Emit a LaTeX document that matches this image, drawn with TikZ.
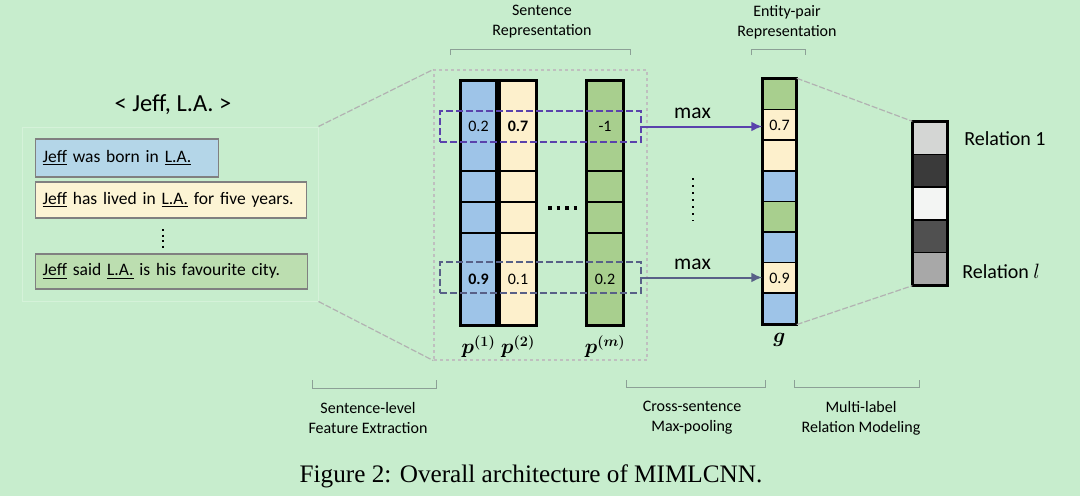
\documentclass[tikz,border=0pt]{standalone}
\usepackage{amsmath,amssymb}
\usepackage{fontspec}
\setmainfont{Carlito}
\newfontfamily\capfont{Liberation Serif}
\usetikzlibrary{positioning,arrows.meta}
\tikzset{>={Latex[length=11pt,width=10pt]}}
\definecolor{bgcol}{RGB}{199,237,205}
\definecolor{vblue}{RGB}{158,196,232}
\definecolor{vcream}{RGB}{253,240,204}
\definecolor{vgreen}{RGB}{168,207,142}
\definecolor{sblue}{RGB}{180,214,232}
\definecolor{scream}{RGB}{252,244,212}
\definecolor{sgreen}{RGB}{188,222,176}
\definecolor{selpurple}{RGB}{90,66,172}
\definecolor{selgray}{RGB}{88,96,135}
\definecolor{linegray}{RGB}{140,160,150}
\definecolor{relA}{RGB}{212,214,212}
\definecolor{relB}{RGB}{58,58,58}
\definecolor{relC}{RGB}{243,245,243}
\definecolor{relD}{RGB}{80,80,80}
\definecolor{relE}{RGB}{168,168,168}
\tikzstyle{sent}=[rectangle,draw=black!50,line width=1.3pt,minimum height=36pt,
  inner xsep=7pt,anchor=west,align=left,font=\fontsize{17.5}{20}\selectfont]
\tikzstyle{cell}=[rectangle,draw=black,line width=1.5pt,minimum width=35pt,
  inner sep=0pt,font=\fontsize{16}{18}\selectfont]
\tikzstyle{gcell}=[cell,minimum width=33pt,minimum height=30.6pt]
\tikzstyle{relcell}=[cell,minimum width=34pt,minimum height=32.6pt]
\tikzstyle{selbox}=[rectangle,line width=2pt,dash pattern=on 7pt off 3pt,
  minimum width=201pt,minimum height=31pt,inner sep=0pt]
\tikzstyle{lbl}=[align=center,font=\fontsize{16}{20}\selectfont]
\tikzstyle{brk}=[linegray,line width=0.8pt]
\tikzstyle{trap}=[black!30,line width=1.2pt,dash pattern=on 6pt off 2pt]

\begin{document}
\begin{tikzpicture}[x=1pt,y=-1pt]
  \useasboundingbox[fill=bgcol] (0,0) rectangle (1080,496) ;

  % input bag of sentences
  \path (173,105) node (pair) [font=\fontsize{24.5}{28}\selectfont] {< Jeff, L.A. >};
  \path (170,214) node (panel) [rectangle,draw=white!25!bgcol,line width=1pt,
    minimum width=296pt,minimum height=174pt] {};
  \path (35,158) node (s1) [sent,fill=sblue,text width=169pt,minimum height=38pt]
    {\underline{Jeff} was born in \underline{L.A.}};
  \path (35,200) node (s2) [sent,fill=scream,text width=257pt]
    {\underline{Jeff} has lived in \underline{L.A.} for five years.};
  \draw[line width=2pt,dash pattern=on 2pt off 3.5pt] (163,229) -- (163,249) ;
  \path (35,271.5) node (s3) [sent,fill=sgreen,text width=258pt,minimum height=35pt]
    {\underline{Jeff} said \underline{L.A.} is his favourite city.};

  % sentence representations
  \path (540.5,215) node (frame) [rectangle,draw=black!25,dashed,line width=1.2pt,
    minimum width=213pt,minimum height=290pt] {};
  \draw[trap] (panel.north east) -- (frame.north west) ;
  \draw[trap] (panel.south east) -- (frame.south west) ;

  \path (478.5,126) node (pa1) [cell,fill=vblue,minimum height=90pt] {0.2};
  \path (478.5,186.5) node (pb1) [cell,fill=vblue,minimum height=31pt] {};
  \path (478.5,217.5) node (pc1) [cell,fill=vblue,minimum height=31pt] {};
  \path (478.5,279) node (pd1) [cell,fill=vblue,minimum height=92pt] {\textbf{0.9}};
  \draw[line width=3pt] (pa1.north west) rectangle (pd1.south east) ;

  \path (518,126) node (pa2) [cell,fill=vcream,minimum height=90pt] {\textbf{0.7}};
  \path (518,186.5) node (pb2) [cell,fill=vcream,minimum height=31pt] {};
  \path (518,217.5) node (pc2) [cell,fill=vcream,minimum height=31pt] {};
  \path (518,279) node (pd2) [cell,fill=vcream,minimum height=92pt] {0.1};
  \draw[line width=3pt] (pa2.north west) rectangle (pd2.south east) ;

  \path (605,126) node (pam) [cell,fill=vgreen,minimum height=90pt] {-1};
  \path (605,186.5) node (pbm) [cell,fill=vgreen,minimum height=31pt] {};
  \path (605,217.5) node (pcm) [cell,fill=vgreen,minimum height=31pt] {};
  \path (605,279) node (pdm) [cell,fill=vgreen,minimum height=92pt] {0.2};
  \draw[line width=3pt] (pam.north west) rectangle (pdm.south east) ;

  \draw[line width=3.5pt,dash pattern=on 3.5pt off 5pt] (548,208) -- (579,208) ;

  \node[below=6pt of pd1,font=\fontsize{20}{24}\selectfont] (lp1) {$\boldsymbol{p^{(1)}}$};
  \node[below=6pt of pd2,font=\fontsize{20}{24}\selectfont] (lp2) {$\boldsymbol{p^{(2)}}$};
  \node[below=6pt of pdm,font=\fontsize{20}{24}\selectfont] (lpm) {$\boldsymbol{p^{(m)}}$};

  \path (540.5,126.5) node (selA) [selbox,draw=selpurple] {};
  \path (540.5,277.5) node (selB) [selbox,draw=selgray] {};

  % entity-pair representation
  \path (779.5,94.3) node (g1) [gcell,fill=vgreen] {};
  \path (779.5,124.9) node (g2) [gcell,fill=vcream] {0.7};
  \path (779.5,155.5) node (g3) [gcell,fill=vcream] {};
  \path (779.5,186.1) node (g4) [gcell,fill=vblue] {};
  \path (779.5,216.7) node (g5) [gcell,fill=vgreen] {};
  \path (779.5,247.3) node (g6) [gcell,fill=vblue] {};
  \path (779.5,277.9) node (g7) [gcell,fill=vcream] {0.9};
  \path (779.5,308.5) node (g8) [gcell,fill=vblue] {};
  \draw[line width=3pt] (g1.north west) rectangle (g8.south east) ;
  \node[below=5pt of g8,font=\fontsize{20}{24}\selectfont] (lg) {$\boldsymbol{g}$};

  \draw[->,selpurple,line width=2pt] (selA.east) -- (selA.east -| g2.west)
    node[pos=0.42,above=4pt,black,font=\fontsize{21.5}{24}\selectfont] (maxA) {max} ;
  \draw[->,selgray,line width=2pt] (selB.east) -- (selB.east -| g7.west)
    node[pos=0.42,above=4pt,black,font=\fontsize{21.5}{24}\selectfont] (maxB) {max} ;
  \draw[line width=1.8pt,dash pattern=on 1.8pt off 5.2pt] (693,178) -- (693,221) ;

  % relations
  \path (930,138.3) node (r1) [relcell,fill=relA] {};
  \path (930,170.9) node (r2) [relcell,fill=relB] {};
  \path (930,203.5) node (r3) [relcell,fill=relC] {};
  \path (930,236.1) node (r4) [relcell,fill=relD] {};
  \path (930,268.7) node (r5) [relcell,fill=relE] {};
  \draw[line width=3pt] (r1.north west) rectangle (r5.south east) ;
  \node[right=13pt of r1,font=\fontsize{20}{22}\selectfont] (rl1) {Relation 1};
  \node[right=11pt of r5,font=\fontsize{20}{22}\selectfont,yshift=-3pt] (rll) {Relation $l$};
  \draw[trap] (g1.north east) -- (r1.north west) ;
  \draw[trap] (g8.south east) -- (r5.south west) ;

  % brackets and captions
  \path (542,22) node (srep) [lbl] {Sentence\\Representation};
  \draw[brk] (450,55) -- (450,49) -- (630,49) -- (630,55) ;
  \path (787,22) node (erep) [lbl] {Entity-pair\\Representation};
  \draw[brk] (751,55) -- (751,49) -- (805,49) -- (805,55) ;

  \draw[brk] (312,380) -- (312,388) -- (436,388) -- (436,380) ;
  \path (368,418) node (stageA) [lbl] {Sentence-level\\Feature Extraction};
  \draw[brk] (626,380) -- (626,387) -- (765,387) -- (765,380) ;
  \path (692,418) node (stageB) [lbl] {Cross-sentence\\Max-pooling};
  \draw[brk] (794,380) -- (794,387) -- (919,387) -- (919,380) ;
  \path (861,418) node (stageC) [lbl] {Multi-label\\Relation Modeling};

  \path (531,476) node (caption) [font=\capfont\fontsize{25.2}{28}\selectfont]
    {Figure 2: Overall architecture of MIMLCNN.};
\end{tikzpicture}
\end{document}
